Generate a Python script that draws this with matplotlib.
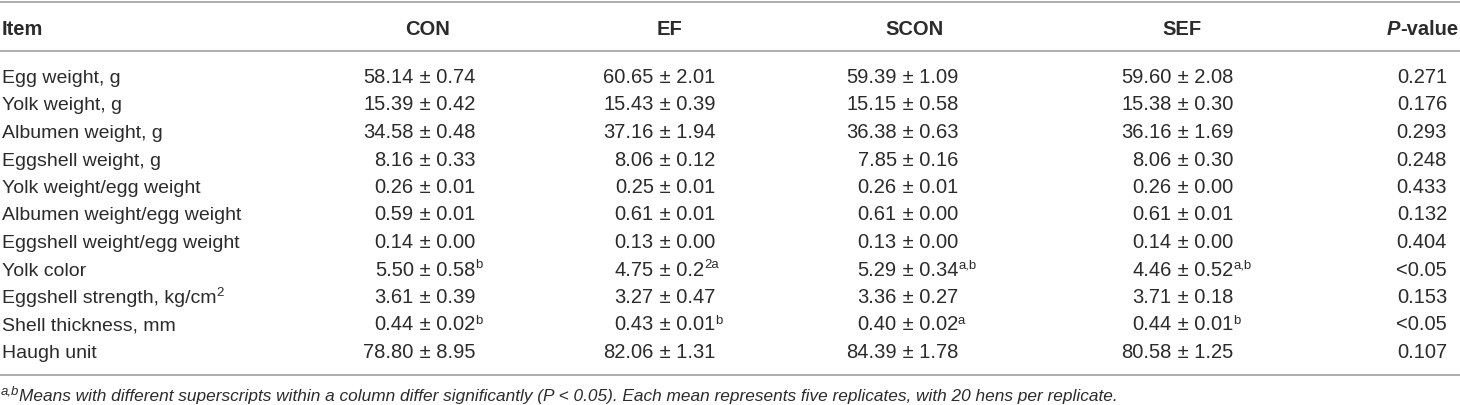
import matplotlib
matplotlib.use('Agg')
import matplotlib.pyplot as plt

plt.rcParams['font.family'] = ['Liberation Sans', 'DejaVu Sans']

# Данные таблицы
items = ["Egg weight, g", "Yolk weight, g", "Albumen weight, g", "Eggshell weight, g",
         "Yolk weight/egg weight", "Albumen weight/egg weight", "Eggshell weight/egg weight",
         "Yolk color", "Eggshell strength, kg/cm", "Shell thickness, mm", "Haugh unit"]
item_sups = ["", "", "", "", "", "", "", "", "2", "", ""]

groups = ["CON", "EF", "SCON", "SEF"]

con_mean = ["58.14", "15.39", "34.58", "8.16", "0.26", "0.59", "0.14", "5.50", "3.61", "0.44", "78.80"]
con_sem = ["0.74", "0.42", "0.48", "0.33", "0.01", "0.01", "0.00", "0.58", "0.39", "0.02", "8.95"]
con_sup = ["", "", "", "", "", "", "", "b", "", "b", ""]

ef_mean = ["60.65", "15.43", "37.16", "8.06", "0.25", "0.61", "0.13", "4.75", "3.27", "0.43", "82.06"]
ef_sem = ["2.01", "0.39", "1.94", "0.12", "0.01", "0.01", "0.00", "0.2", "0.47", "0.01", "1.31"]
ef_sup = ["", "", "", "", "", "", "", "2a", "", "b", ""]

scon_mean = ["59.39", "15.15", "36.38", "7.85", "0.26", "0.61", "0.13", "5.29", "3.36", "0.40", "84.39"]
scon_sem = ["1.09", "0.58", "0.63", "0.16", "0.01", "0.00", "0.00", "0.34", "0.27", "0.02", "1.78"]
scon_sup = ["", "", "", "", "", "", "", "a,b", "", "a", ""]

sef_mean = ["59.60", "15.38", "36.16", "8.06", "0.26", "0.61", "0.14", "4.46", "3.71", "0.44", "80.58"]
sef_sem = ["2.08", "0.30", "1.69", "0.30", "0.00", "0.01", "0.00", "0.52", "0.18", "0.01", "1.25"]
sef_sup = ["", "", "", "", "", "", "", "a,b", "", "b", ""]

p_values = ["0.271", "0.176", "0.293", "0.248", "0.433", "0.132", "0.404", "<0.05", "0.153", "<0.05", "0.107"]

footnote = ("Means with different superscripts within a column differ significantly (P < 0.05). "
            "Each mean represents five replicates, with 20 hens per replicate.")

# Оформление
W, H = 1460, 405
FS_ITEM = 14
FS_NUM = 14.5
FS_HEAD = 14.5
FS_NOTE = 12.4
SUP_FS = 9.5
TXT = '#2b2b2b'
LINE = '#a8a8a8'

fig = plt.figure(figsize=(W / 100, H / 100), dpi=100)
ax = fig.add_axes([0, 0, 1, 1])
ax.set_xlim(0, W)
ax.set_ylim(H, 0)
ax.axis('off')
renderer = fig.canvas.get_renderer()


def text_width(t):
    return t.get_window_extent(renderer).width


def run(x, y, parts, ha='left', size=FS_NUM):
    """Рисует строку из кусков (текст, стиль, надстрочный) и выравнивает её целиком."""
    objs = []
    for txt, style, sup in parts:
        fs = SUP_FS if sup else size
        dy = -7 if sup else 0
        t = ax.text(0, y + dy, txt, fontsize=fs, color=TXT, va='baseline', ha='left', **style)
        objs.append(t)
    widths = [text_width(t) for t in objs]
    total = sum(widths)
    if ha == 'right':
        x0 = x - total
    elif ha == 'center':
        x0 = x - total / 2
    else:
        x0 = x
    for t, w in zip(objs, widths):
        t.set_x(x0)
        x0 += w
    return objs


# Линии таблицы
for ly in [2, 50.5, 375]:
    ax.plot([0, W], [ly, ly], color=LINE, lw=1.3, solid_capstyle='butt')

# Заголовок
head_y = 35
bold = {'fontweight': 'bold'}
run(2, head_y, [("Item", bold, False)], size=FS_HEAD)
head_x = [428, 670, 915, 1182]
for g, hx in zip(groups, head_x):
    run(hx, head_y, [(g, bold, False)], ha='center', size=FS_HEAD)
run(1458, head_y, [("P", {'fontweight': 'bold', 'fontstyle': 'italic'}, False),
                   ("-value", bold, False)], ha='right', size=FS_HEAD)

# Строки
row0 = 83
step = 27.5
right_edges = [475, 715, 958, 1233]
means = [con_mean, ef_mean, scon_mean, sef_mean]
sems = [con_sem, ef_sem, scon_sem, sef_sem]
sups = [con_sup, ef_sup, scon_sup, sef_sup]

probe = ax.text(0, 0, " ± 0.00", fontsize=FS_NUM)
rest_w = text_width(probe)
probe.remove()

for i, item in enumerate(items):
    y = row0 + i * step
    parts = [(item, {}, False)]
    if item_sups[i]:
        parts.append((item_sups[i], {}, True))
    run(2, y, parts, size=FS_ITEM)
    for g in range(len(groups)):
        anchor = right_edges[g] - rest_w
        run(anchor, y, [(means[g][i], {}, False)], ha='right')
        rest = [(" ± " + sems[g][i], {}, False)]
        if sups[g][i]:
            rest.append((sups[g][i], {}, True))
        run(anchor, y, rest)
    run(1447, y, [(p_values[i], {}, False)], ha='right')

# Примечание
it = {'fontstyle': 'italic'}
run(1, 401, [("a,b", it, True), (footnote, it, False)], size=FS_NOTE)

fig.savefig('out.png', dpi=100)
